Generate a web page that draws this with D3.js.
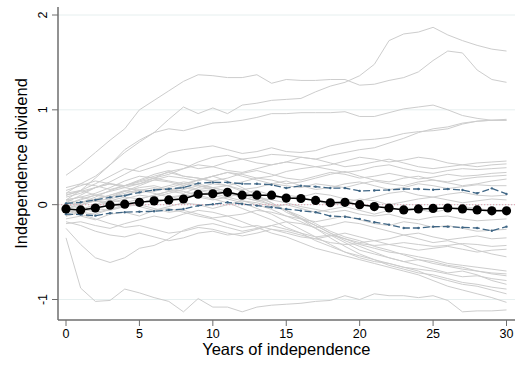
<!DOCTYPE html>
<html>
<head>
<meta charset="utf-8">
<script src="https://cdn.jsdelivr.net/npm/d3@7"></script>
<style>
  body { margin: 0; background: #fff; }
  svg { display: block; font-family: "Liberation Sans", Arial, sans-serif; }
</style>
</head>
<body>
<div id="chart"></div>
<script>
const years = d3.range(0, 31)

// country trajectories (grey lines), one value per year 0..30
const countries = [
  [0.31,0.42,0.55,0.68,0.80,1.00,1.10,1.20,1.30,1.37,1.36,1.34,1.34,1.37,1.28,1.32,1.31,1.31,1.32,1.32,1.26,1.27,1.31,1.34,1.40,1.52,1.62,1.60,1.42,1.32,1.29],
  [0.12,0.22,0.30,0.42,0.55,0.66,0.76,0.90,1.03,0.96,1.02,0.96,1.05,1.07,1.10,1.11,1.12,1.19,1.25,1.29,1.36,1.48,1.73,1.80,1.82,1.87,1.79,1.73,1.68,1.64,1.62],
  [0.05,0.15,0.28,0.42,0.58,0.68,0.76,0.80,0.78,0.82,0.86,0.87,0.89,0.92,0.96,0.96,0.97,0.97,0.97,0.98,0.93,0.93,0.97,1.01,1.03,1.05,1.00,0.94,0.91,0.89,0.89],
  [0.02,0.10,0.18,0.24,0.32,0.40,0.46,0.55,0.58,0.60,0.62,0.58,0.54,0.56,0.60,0.56,0.55,0.57,0.62,0.65,0.68,0.69,0.71,0.75,0.77,0.78,0.80,0.85,0.88,0.89,0.89],
  [-0.05,0.02,0.08,0.15,0.20,0.22,0.28,0.35,0.38,0.45,0.50,0.52,0.48,0.50,0.53,0.52,0.50,0.48,0.52,0.55,0.58,0.60,0.65,0.70,0.76,0.80,0.82,0.86,0.88,0.89,0.90],
  [0.10,0.15,0.22,0.30,0.38,0.35,0.40,0.45,0.42,0.38,0.40,0.45,0.48,0.44,0.42,0.45,0.50,0.48,0.44,0.40,0.42,0.45,0.48,0.44,0.40,0.38,0.40,0.42,0.44,0.45,0.46],
  [0.05,0.08,0.12,0.18,0.25,0.30,0.28,0.32,0.38,0.42,0.40,0.36,0.34,0.38,0.42,0.45,0.43,0.40,0.42,0.46,0.50,0.48,0.45,0.47,0.50,0.48,0.44,0.42,0.40,0.42,0.43],
  [0.00,0.06,0.10,0.08,0.14,0.20,0.26,0.30,0.28,0.25,0.30,0.34,0.32,0.28,0.30,0.35,0.38,0.40,0.37,0.34,0.36,0.40,0.42,0.38,0.35,0.33,0.36,0.38,0.37,0.38,0.39],
  [0.08,0.12,0.18,0.22,0.20,0.26,0.32,0.36,0.30,0.28,0.25,0.28,0.33,0.36,0.32,0.28,0.26,0.30,0.34,0.32,0.28,0.30,0.33,0.30,0.27,0.29,0.32,0.30,0.31,0.33,0.34],
  [-0.02,0.02,0.05,0.10,0.15,0.12,0.16,0.20,0.24,0.22,0.18,0.20,0.24,0.28,0.26,0.22,0.24,0.28,0.32,0.35,0.30,0.26,0.24,0.28,0.30,0.26,0.24,0.27,0.29,0.30,0.31],
  [0.03,0.00,0.04,0.06,0.10,0.15,0.18,0.15,0.20,0.26,0.30,0.34,0.30,0.26,0.22,0.20,0.18,0.22,0.20,0.18,0.22,0.25,0.22,0.20,0.24,0.26,0.23,0.20,0.22,0.25,0.27],
  [-0.08,-0.05,0.00,0.05,0.02,0.06,0.10,0.14,0.12,0.18,0.22,0.20,0.16,0.18,0.22,0.25,0.20,0.16,0.18,0.22,0.24,0.20,0.16,0.18,0.22,0.20,0.17,0.19,0.21,0.20,0.20],
  [-0.12,-0.08,-0.10,-0.05,0.00,0.04,0.02,0.06,0.10,0.08,0.05,0.08,0.12,0.15,0.10,0.06,0.08,0.12,0.10,0.06,0.04,0.08,0.12,0.14,0.10,0.08,0.11,0.13,0.10,0.09,0.10],
  [0.12,0.15,0.10,0.14,0.18,0.15,0.12,0.08,0.10,0.14,0.16,0.12,0.08,0.04,0.06,0.10,0.08,0.04,0.00,0.02,0.06,0.04,0.00,0.03,0.06,0.08,0.05,0.02,0.04,0.06,0.05],
  [-0.15,-0.12,-0.16,-0.10,-0.08,-0.12,-0.06,-0.02,0.02,0.00,-0.04,0.00,0.04,0.02,-0.02,0.00,-0.04,-0.08,-0.05,-0.02,-0.06,-0.10,-0.06,-0.03,-0.05,-0.08,-0.05,-0.02,-0.04,-0.06,-0.05],
  [0.15,0.20,0.25,0.22,0.18,0.22,0.26,0.24,0.20,0.16,0.18,0.14,0.10,0.08,0.05,0.02,-0.02,-0.05,-0.08,-0.06,-0.10,-0.12,-0.10,-0.14,-0.16,-0.13,-0.12,-0.15,-0.17,-0.16,-0.15],
  [-0.20,-0.18,-0.22,-0.25,-0.20,-0.16,-0.12,-0.15,-0.10,-0.06,-0.08,-0.12,-0.10,-0.06,-0.08,-0.12,-0.15,-0.18,-0.15,-0.12,-0.16,-0.20,-0.22,-0.18,-0.20,-0.24,-0.22,-0.25,-0.28,-0.27,-0.26],
  [-0.05,-0.10,-0.15,-0.20,-0.24,-0.22,-0.26,-0.30,-0.28,-0.24,-0.26,-0.30,-0.33,-0.30,-0.26,-0.28,-0.32,-0.36,-0.33,-0.30,-0.34,-0.38,-0.36,-0.32,-0.30,-0.34,-0.37,-0.35,-0.33,-0.36,-0.35],
  [0.05,0.08,0.04,0.00,0.02,-0.02,-0.06,-0.04,-0.08,-0.12,-0.15,-0.20,-0.24,-0.22,-0.26,-0.30,-0.34,-0.36,-0.40,-0.42,-0.41,-0.43,-0.42,-0.40,-0.42,-0.44,-0.43,-0.41,-0.42,-0.44,-0.43],
  [-0.25,-0.42,-0.56,-0.61,-0.56,-0.46,-0.43,-0.36,-0.27,-0.22,-0.20,-0.24,-0.28,-0.25,-0.22,-0.26,-0.30,-0.34,-0.32,-0.36,-0.40,-0.38,-0.42,-0.45,-0.48,-0.46,-0.44,-0.47,-0.50,-0.48,-0.47],
  [0.10,0.14,0.18,0.22,0.20,0.24,0.28,0.25,0.22,0.26,0.30,0.25,0.18,0.10,0.02,-0.08,-0.15,-0.22,-0.30,-0.36,-0.42,-0.46,-0.50,-0.52,-0.55,-0.58,-0.62,-0.64,-0.66,-0.68,-0.70],
  [0.00,0.05,0.10,0.08,0.12,0.16,0.14,0.18,0.22,0.20,0.16,0.12,0.08,0.04,0.00,-0.06,-0.12,-0.20,-0.28,-0.34,-0.38,-0.44,-0.48,-0.53,-0.58,-0.60,-0.64,-0.66,-0.70,-0.72,-0.73],
  [-0.10,-0.06,-0.02,0.04,0.08,0.06,0.10,0.14,0.18,0.15,0.12,0.08,0.04,0.00,-0.05,-0.12,-0.18,-0.25,-0.32,-0.40,-0.48,-0.52,-0.56,-0.60,-0.58,-0.62,-0.65,-0.68,-0.70,-0.73,-0.75],
  [0.05,0.02,0.06,0.10,0.14,0.18,0.20,0.16,0.14,0.10,0.06,0.02,-0.04,-0.10,-0.16,-0.24,-0.30,-0.38,-0.44,-0.50,-0.54,-0.58,-0.62,-0.66,-0.68,-0.70,-0.73,-0.76,-0.75,-0.78,-0.80],
  [-0.05,0.00,0.04,0.02,0.06,0.10,0.08,0.12,0.16,0.20,0.18,0.14,0.10,0.06,0.00,-0.06,-0.14,-0.22,-0.30,-0.38,-0.44,-0.50,-0.56,-0.60,-0.64,-0.68,-0.72,-0.70,-0.74,-0.80,-0.84],
  [0.18,0.22,0.20,0.16,0.20,0.25,0.30,0.34,0.30,0.28,0.24,0.20,0.14,0.08,0.02,-0.06,-0.15,-0.25,-0.35,-0.44,-0.52,-0.58,-0.64,-0.68,-0.72,-0.74,-0.78,-0.82,-0.84,-0.87,-0.89],
  [-0.12,-0.08,-0.04,-0.06,-0.02,0.02,0.06,0.04,0.08,0.12,0.10,0.06,0.02,-0.04,-0.10,-0.18,-0.26,-0.34,-0.42,-0.50,-0.56,-0.60,-0.62,-0.66,-0.70,-0.76,-0.80,-0.84,-0.86,-0.90,-0.94],
  [0.00,-0.04,-0.08,-0.05,-0.02,0.00,-0.04,-0.08,-0.06,-0.10,-0.14,-0.12,-0.18,-0.24,-0.30,-0.34,-0.40,-0.46,-0.50,-0.54,-0.58,-0.62,-0.66,-0.70,-0.74,-0.80,-0.86,-0.90,-0.94,-0.98,-1.03],
  [-0.35,-0.88,-1.02,-1.01,-0.89,-0.93,-0.98,-1.02,-1.13,-0.99,-1.08,-1.08,-1.13,-1.08,-1.06,-1.05,-1.04,-1.02,-1.01,-0.96,-1.00,-0.94,-0.96,-0.96,-0.98,-0.96,-1.01,-1.13,-1.12,-1.12,-1.11],
  [-0.18,-0.22,-0.28,-0.32,-0.34,-0.30,-0.34,-0.38,-0.35,-0.30,-0.28,-0.32,-0.30,-0.26,-0.22,-0.18,-0.20,-0.24,-0.22,-0.18,-0.20,-0.24,-0.28,-0.32,-0.36,-0.40,-0.38,-0.42,-0.48,-0.52,-0.55]
]

// average dividend and its confidence band
const meanVals = [-0.045,-0.055,-0.035,-0.005,0.005,0.025,0.04,0.05,0.06,0.11,0.115,0.13,0.10,0.10,0.10,0.07,0.065,0.045,0.02,0.025,0.0,-0.02,-0.035,-0.055,-0.045,-0.04,-0.035,-0.045,-0.055,-0.065,-0.065]
const upperVals = [0.014,0.025,0.05,0.077,0.095,0.13,0.155,0.165,0.18,0.225,0.235,0.235,0.22,0.22,0.21,0.175,0.20,0.19,0.175,0.175,0.145,0.15,0.155,0.165,0.165,0.158,0.165,0.155,0.12,0.172,0.113]
const lowerVals = [-0.10,-0.105,-0.116,-0.09,-0.08,-0.074,-0.07,-0.056,-0.046,-0.01,0.004,0.025,0.007,-0.01,-0.028,-0.046,-0.063,-0.08,-0.12,-0.127,-0.15,-0.185,-0.21,-0.246,-0.246,-0.232,-0.232,-0.24,-0.246,-0.275,-0.232]

const xTicks = [0, 5, 10, 15, 20, 25, 30]
const yTicks = [-1, 0, 1, 2]

const width = 518
const height = 367

const svg = d3.select("#chart").append("svg")
    .attr("width", width)
    .attr("height", height)

svg.append("rect").attr("width", width).attr("height", height).attr("fill", "#fff")

const x = d3.scaleLinear().domain([0, 30]).range([66, 506.5])
const y = d3.scaleLinear().domain([-1, 2]).range([299.5, 15])

const plotLeft = 58, plotRight = 515, plotBottom = 320, plotTop = 7

// gridlines
svg.append("g")
    .selectAll("line")
    .data(yTicks)
    .enter()
    .append("line")
    .attr("x1", plotLeft).attr("x2", plotRight)
    .attr("y1", d => y(d)).attr("y2", d => y(d))
    .style("stroke", "#e6efef")
    .style("stroke-width", 1)

let line = d3.line()
    .x((d, i) => x(years[i]))
    .y(d => y(d))

// grey country lines
svg.append("g")
    .selectAll("path")
    .data(countries)
    .enter()
    .append("path")
    .attr("d", line)
    .style("fill", "none")
    .style("stroke", "#cdcdcd")
    .style("stroke-width", 1)

// zero reference line
svg.append("line")
    .attr("x1", plotLeft).attr("x2", plotRight)
    .attr("y1", y(0)).attr("y2", y(0))
    .style("stroke", "#e2aebb")
    .style("stroke-width", 1.2)
    .style("stroke-dasharray", "1.2,1.8")

// confidence band
const ciColor = "#3f6685"
;[upperVals, lowerVals].forEach(vals => {
    svg.append("path")
        .datum(vals)
        .attr("d", line)
        .style("fill", "none")
        .style("stroke", ciColor)
        .style("stroke-width", 1.3)
        .style("stroke-dasharray", "7,3")
    svg.append("g")
        .selectAll("circle")
        .data(vals)
        .enter()
        .append("circle")
        .attr("cx", (d, i) => x(years[i]))
        .attr("cy", d => y(d))
        .attr("r", 1.2)
        .style("fill", ciColor)
})

// mean line with dots
svg.append("path")
    .datum(meanVals)
    .attr("d", line)
    .style("fill", "none")
    .style("stroke", "#000")
    .style("stroke-width", 1.5)

svg.append("g")
    .selectAll("circle")
    .data(meanVals)
    .enter()
    .append("circle")
    .attr("cx", (d, i) => x(years[i]))
    .attr("cy", d => y(d))
    .attr("r", 4.6)
    .style("fill", "#000")

// axes
const axisColor = "#6e6e6e"
svg.append("line")
    .attr("x1", plotLeft).attr("x2", plotLeft)
    .attr("y1", plotTop).attr("y2", plotBottom)
    .style("stroke", axisColor).style("stroke-width", 1.5)
svg.append("line")
    .attr("x1", plotLeft).attr("x2", plotRight)
    .attr("y1", plotBottom).attr("y2", plotBottom)
    .style("stroke", axisColor).style("stroke-width", 1.5)

// y ticks and labels (rotated, stata style)
let yAxis = svg.append("g")
yAxis.selectAll("line")
    .data(yTicks)
    .enter()
    .append("line")
    .attr("x1", plotLeft - 6).attr("x2", plotLeft)
    .attr("y1", d => y(d)).attr("y2", d => y(d))
    .style("stroke", axisColor).style("stroke-width", 1)
yAxis.selectAll("text")
    .data(yTicks)
    .enter()
    .append("text")
    .attr("transform", d => "translate(47," + y(d) + ") rotate(-90)")
    .attr("text-anchor", "middle")
    .style("font-size", "12.5px")
    .style("fill", "#000")
    .text(d => d)

// x ticks and labels
let xAxis = svg.append("g")
xAxis.selectAll("line")
    .data(xTicks)
    .enter()
    .append("line")
    .attr("x1", d => x(d)).attr("x2", d => x(d))
    .attr("y1", plotBottom).attr("y2", plotBottom + 6)
    .style("stroke", axisColor).style("stroke-width", 1)
xAxis.selectAll("text")
    .data(xTicks)
    .enter()
    .append("text")
    .attr("x", d => x(d))
    .attr("y", 338)
    .attr("text-anchor", "middle")
    .style("font-size", "12.5px")
    .style("fill", "#000")
    .text(d => d)

// titles
svg.append("text")
    .attr("x", (x(0) + x(30)) / 2)
    .attr("y", 355)
    .attr("text-anchor", "middle")
    .style("font-size", "16.5px")
    .style("fill", "#000")
    .text("Years of independence")

svg.append("text")
    .attr("transform", "translate(27," + ((plotTop + plotBottom) / 2) + ") rotate(-90)")
    .attr("text-anchor", "middle")
    .style("font-size", "16.5px")
    .style("fill", "#000")
    .text("Independence dividend")
</script>
</body>
</html>
